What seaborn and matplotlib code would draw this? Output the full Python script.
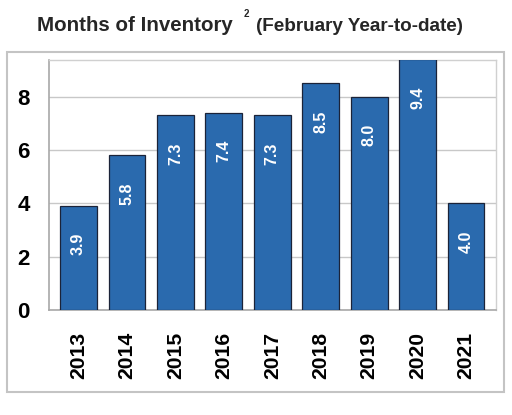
import matplotlib
matplotlib.use("Agg")
import matplotlib.pyplot as plt
import seaborn as sns
import pandas as pd
from matplotlib.patches import Rectangle

years = ["2013", "2014", "2015", "2016", "2017", "2018", "2019", "2020", "2021"]
months = [3.9, 5.8, 7.3, 7.4, 7.3, 8.5, 8.0, 9.4, 4.0]
value_labels = ["3.9", "5.8", "7.3", "7.4", "7.3", "8.5", "8.0", "9.4", "4.0"]
yticks = [0, 2, 4, 6, 8]

sns.set_theme(style="white")
plt.rcParams['font.family'] = ['Liberation Sans', 'DejaVu Sans']

df = pd.DataFrame({"year": years, "months": months})

fig = plt.figure(figsize=(5.12, 4.15), dpi=100)
ax = fig.add_axes([49/512, 1-310/415, (495.5-49)/512, (310-60)/415])

sns.barplot(data=df, x="year", y="months", color="#2a6aae", saturation=1,
            edgecolor="#1b2338", linewidth=0.9, width=0.76, ax=ax, zorder=3)

ax.set_xlim(-0.61, 8.61)
ax.set_ylim(0, 9.375)
ax.set_yticks(yticks)
ax.set_yticklabels([str(t) for t in yticks], fontsize=16, fontweight='bold', color='black')
ax.set_xticks(range(len(years)))
ax.set_xticklabels(years, rotation=90, fontsize=15.2, fontweight='bold', color='black')
ax.set_xlabel("")
ax.set_ylabel("")
ax.yaxis.grid(True, color="#c8c8c8", linewidth=1, zorder=0)
ax.set_axisbelow(True)
ax.tick_params(axis='both', which='both', length=8, width=1, color="#a8a8a8")
ax.tick_params(axis='y', pad=6)
ax.tick_params(axis='x', pad=8)
for side in ['left', 'bottom']:
    ax.spines[side].set_color("#a8a8a8")
    ax.spines[side].set_linewidth(1.2)
for side in ['top', 'right']:
    ax.spines[side].set_color("#d0d0d0")
    ax.spines[side].set_linewidth(1.0)

for i, (v, lab) in enumerate(zip(months, value_labels)):
    ax.annotate(lab, xy=(i, v), xytext=(0, -27.5), textcoords='offset points',
                ha='center', va='center', rotation=90, color='white',
                fontsize=11.5, fontweight='bold', annotation_clip=False, zorder=5)

# outer frame
fig.patches.append(Rectangle((7/512, 1-392/415), 497/512, 340/415, transform=fig.transFigure,
                             fill=False, edgecolor="#c4c4c4", linewidth=1.5))

# title pieces
fig.text(37/512, 1-31/415, "Months of Inventory", fontsize=14.8, fontweight='bold',
         ha='left', va='baseline')
fig.text(244/512, 1-17/415, "2", fontsize=7, fontweight='bold', ha='left', va='baseline')
fig.text(256/512, 1-31/415, "(February Year-to-date)", fontsize=13.6, fontweight='bold',
         ha='left', va='baseline')

fig.savefig("out.png", dpi=100)
